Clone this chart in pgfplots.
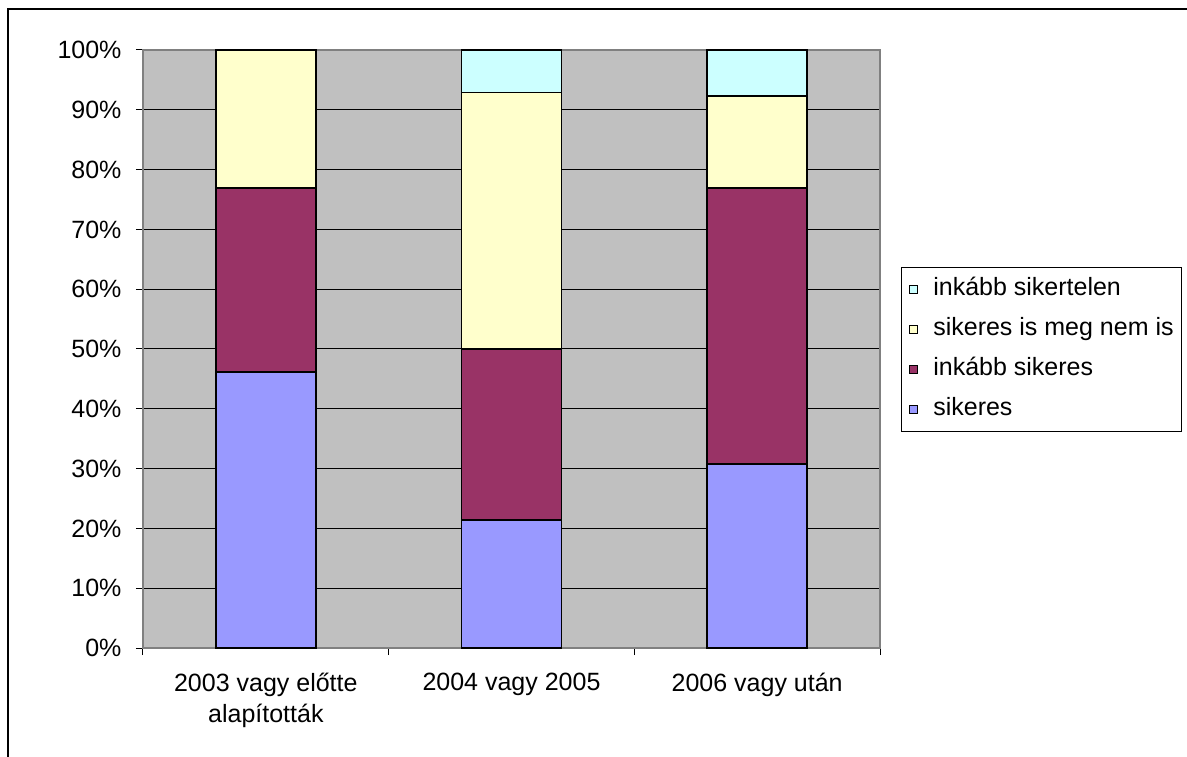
\documentclass[border=0pt]{standalone}
\usepackage{pgfplots}
\pgfplotsset{compat=1.18}
\usepackage{fontspec}
\setmainfont{Liberation Sans}
\definecolor{cSik}{HTML}{9999FF}
\definecolor{cInk}{HTML}{993366}
\definecolor{cNei}{HTML}{FFFFCC}
\definecolor{cTel}{HTML}{CCFFFF}
\definecolor{cBg}{HTML}{C0C0C0}
\definecolor{cFrame}{HTML}{808080}
\begin{document}
\begin{tikzpicture}[x=1pt,y=1pt]
\begin{axis}[
  at={(143pt,108pt)}, anchor=south west,
  scale only axis, width=737pt, height=598pt,
  font=\fontsize{25}{30}\selectfont,
  ybar stacked, bar width=100pt,
  xmin=-0.5, xmax=2.5, ymin=0, ymax=100,
  xtick={0,1,2},
  xticklabels={{2003 vagy előtte\\alapították},{2004 vagy 2005},{2006 vagy után}},
  xticklabel style={align=center, yshift=-15pt, font=\fontsize{25}{31}\selectfont},
  minor xtick={-0.5,0.5,1.5,2.5},
  major x tick style={draw=none},
  xtick pos=bottom, ytick pos=left,
  ytick distance=10,
  yticklabel={\pgfmathprintnumber{\tick}\%},
  /pgf/number format/assume math mode=true,
  yticklabel style={xshift=-11pt},
  tick align=outside,
  major tick length=7pt, minor tick length=7pt,
  tick style={black, line width=1pt},
  ymajorgrids, grid style={black, line width=1pt},
  axis background/.style={fill=cBg},
  axis line style={cFrame, line width=1.5pt},
  every axis plot/.append style={draw=black, line width=1.4pt},
  reverse legend,
  legend style={at={(1.0285,0.637)}, anchor=north west, draw=black, line width=0.8pt,
    inner xsep=8pt, inner ysep=10pt, row sep=16pt, column sep=15pt,
    nodes={inner sep=0pt, text height=18pt, text depth=6pt, anchor=west},
    font=\fontsize{25}{30}\selectfont},
  legend cell align=left,
  legend image code/.code={\draw[#1, line width=0.9pt] (0pt,-4pt) rectangle (8pt,4pt);},
]
\addplot[fill=cSik] coordinates {(0,46.15) (1,21.43) (2,30.77)};
\addplot[fill=cInk] coordinates {(0,30.77) (1,28.57) (2,46.15)};
\addplot[fill=cNei] coordinates {(0,23.08) (1,42.86) (2,15.38)};
\addplot[fill=cTel] coordinates {(0,0) (1,7.14) (2,7.69)};
\legend{sikeres, inkább sikeres, sikeres is meg nem is, inkább sikertelen}
\end{axis}
\draw[black, line width=1.5pt] (8,-10) -- (8,747) -- (1200,747);
\pgfresetboundingbox
\useasboundingbox (0,0) rectangle (1187,756);
\end{tikzpicture}
\end{document}
